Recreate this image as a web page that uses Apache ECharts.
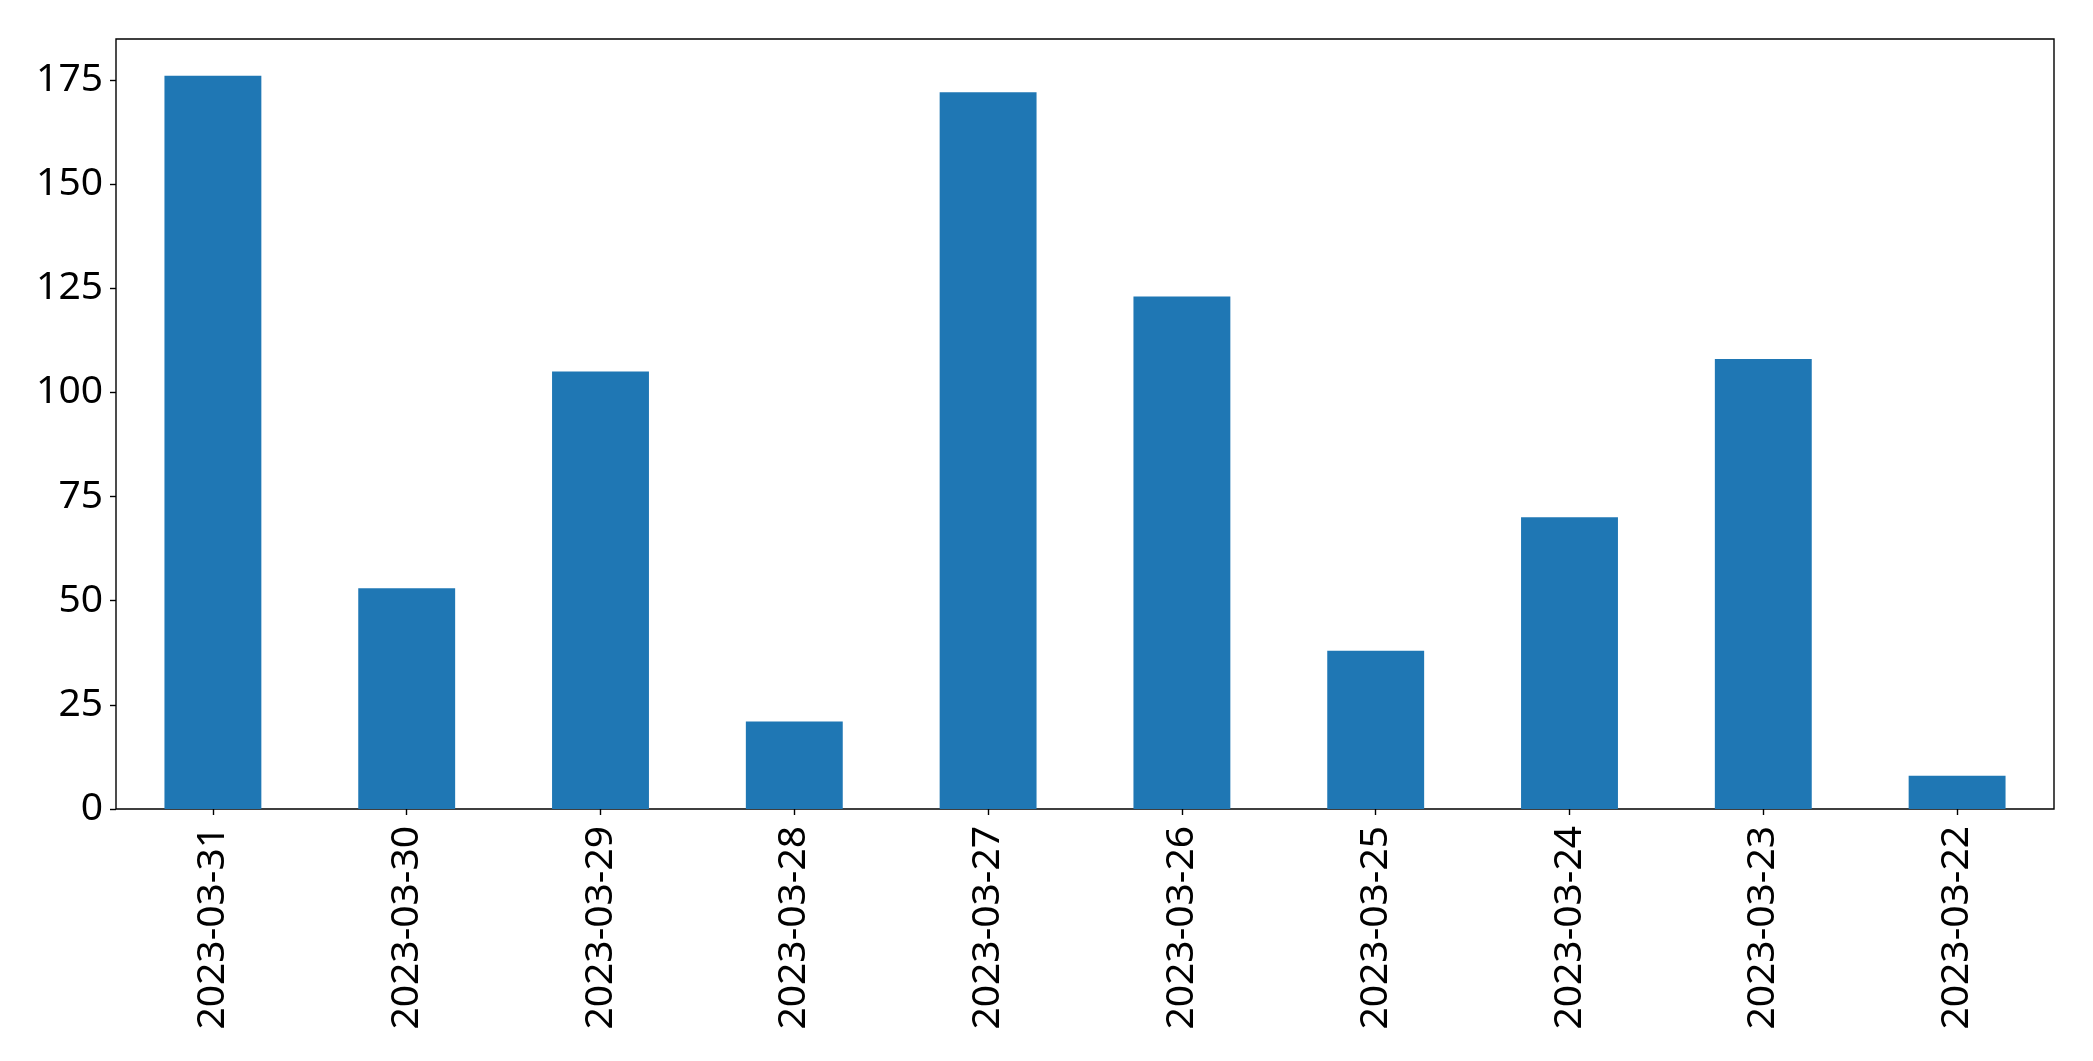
<!DOCTYPE html>
<html>
<head>
<meta charset="utf-8">
<script src="https://cdn.jsdelivr.net/npm/echarts@6/dist/echarts.min.js"></script>
<style>html,body{margin:0;padding:0;background:#fff;}#c{width:2093px;height:1061px;}</style>
</head>
<body>
<div id="c"></div>
<script>
const categories = ["2023-03-31","2023-03-30","2023-03-29","2023-03-28","2023-03-27","2023-03-26","2023-03-25","2023-03-24","2023-03-23","2023-03-22"];
const values = [176, 53, 105, 21, 172, 123, 38, 70, 108, 8];
const yTicks = [0, 25, 50, 75, 100, 125, 150, 175];

const chart = echarts.init(document.getElementById('c'), null, {renderer: 'canvas'});
const font = '"Noto Sans", "DejaVu Sans", sans-serif';
chart.setOption({
  animation: false,
  backgroundColor: '#fff',
  grid: {left: 116, top: 39, width: 1938, height: 770, show: true, borderColor: '#000', borderWidth: 1.4, backgroundColor: 'transparent'},
  xAxis: {
    type: 'category',
    data: categories,
    boundaryGap: true,
    axisLine: {show: false},
    axisTick: {show: true, alignWithLabel: true, length: 6, lineStyle: {color: '#000', width: 1.4}},
    axisLabel: {rotate: 90, margin: 17, color: '#000', fontSize: 39, fontFamily: font, interval: 0}
  },
  yAxis: {
    type: 'value',
    min: 0,
    max: 184.8,
    interval: 25,
    splitLine: {show: false},
    axisLine: {show: false},
    axisTick: {show: true, length: 6, customValues: yTicks, lineStyle: {color: '#000', width: 1.4}},
    axisLabel: {margin: 13, color: '#000', fontSize: 39, fontFamily: font, customValues: yTicks}
  },
  series: [{
    type: 'bar',
    data: values,
    barWidth: '50%',
    itemStyle: {color: '#1f77b4'}
  }]
});
</script>
</body>
</html>
